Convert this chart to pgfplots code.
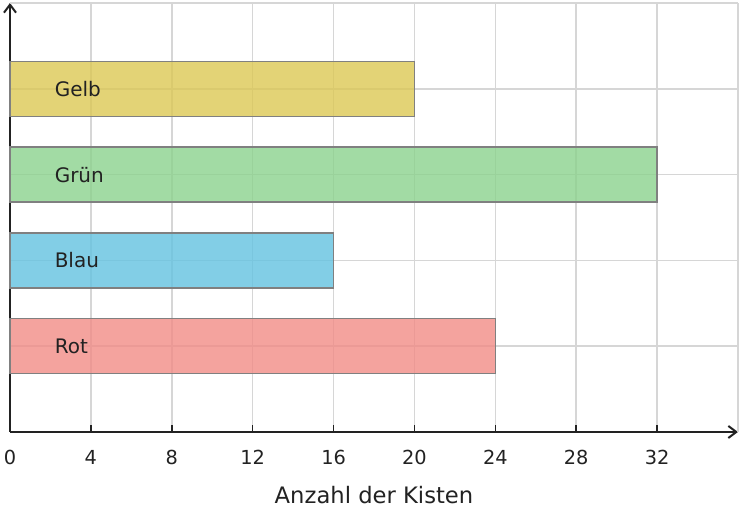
\documentclass[border=0pt]{standalone}
\usepackage{pgfplots}
\pgfplotsset{compat=1.18}
\usetikzlibrary{arrows.meta}
\usepackage{fontspec}
\setmainfont{DejaVu Sans}
\definecolor{txt}{HTML}{222222}
\definecolor{gelb}{RGB}{220,200,84}
\definecolor{gruen}{RGB}{139,210,141}
\definecolor{blau}{RGB}{99,194,224}
\definecolor{rot}{RGB}{241,140,134}
\definecolor{gridc}{HTML}{D6D6D6}
\begin{document}
\begin{tikzpicture}
\begin{axis}[
  scale only axis, width=546pt, height=321.75pt,
  xmin=0, xmax=36, ymin=-1, ymax=4,
  axis lines=left,
  axis line style={-{Straight Barb[length=6pt,width=9pt,line width=1.5pt]}, line width=1.5pt, color=txt},
  xtick={0,4,...,32},
  ytick={0,1,2,3},
  yticklabels={},
  extra x ticks={36}, extra x tick labels={},
  extra x tick style={grid=major, tick style={draw=none}},
  extra y ticks={4}, extra y tick labels={},
  extra y tick style={grid=major, tick style={draw=none}},
  xmajorgrids, ymajorgrids,
  grid style={gridc, line width=1.1pt},
  major tick length=5.5pt,
  x tick style={txt, line width=1.2pt},
  y tick style={draw=none},
  tick align=inside,
  /pgf/number format/assume math mode=true,
  ticklabel style={font=\fontsize{14.5}{17}\selectfont, text=txt},
  xticklabel style={yshift=-10pt},
  xlabel={Anzahl der Kisten},
  xlabel style={font=\fontsize{17}{20}\selectfont, text=txt, yshift=-9pt},
  xbar, bar width=41.25pt, bar shift=0pt,
  clip=false,
]
\addplot[xbar, bar shift=0pt, fill=rot, fill opacity=0.8, draw=gray, line width=1pt] coordinates {(24,0)};
\addplot[xbar, bar shift=0pt, fill=blau, fill opacity=0.8, draw=gray, line width=1pt] coordinates {(16,1)};
\addplot[xbar, bar shift=0pt, fill=gruen, fill opacity=0.8, draw=gray, line width=1pt] coordinates {(32,2)};
\addplot[xbar, bar shift=0pt, fill=gelb, fill opacity=0.8, draw=gray, line width=1pt] coordinates {(20,3)};
\node[anchor=west, inner sep=0pt, font=\fontsize{15}{18}\selectfont, text=txt] at (axis cs:2.2,0) {Rot};
\node[anchor=west, inner sep=0pt, font=\fontsize{15}{18}\selectfont, text=txt] at (axis cs:2.2,1) {Blau};
\node[anchor=west, inner sep=0pt, font=\fontsize{15}{18}\selectfont, text=txt] at (axis cs:2.2,2) {Grün};
\node[anchor=west, inner sep=0pt, font=\fontsize{15}{18}\selectfont, text=txt] at (axis cs:2.2,3) {Gelb};
\coordinate (bl) at (rel axis cs:0,0);
\coordinate (tr) at (rel axis cs:1,1);
\end{axis}
\pgfresetboundingbox
\path ([xshift=-7.5pt,yshift=-57pt]bl) rectangle ([xshift=3pt,yshift=2.25pt]tr);
\end{tikzpicture}
\end{document}
